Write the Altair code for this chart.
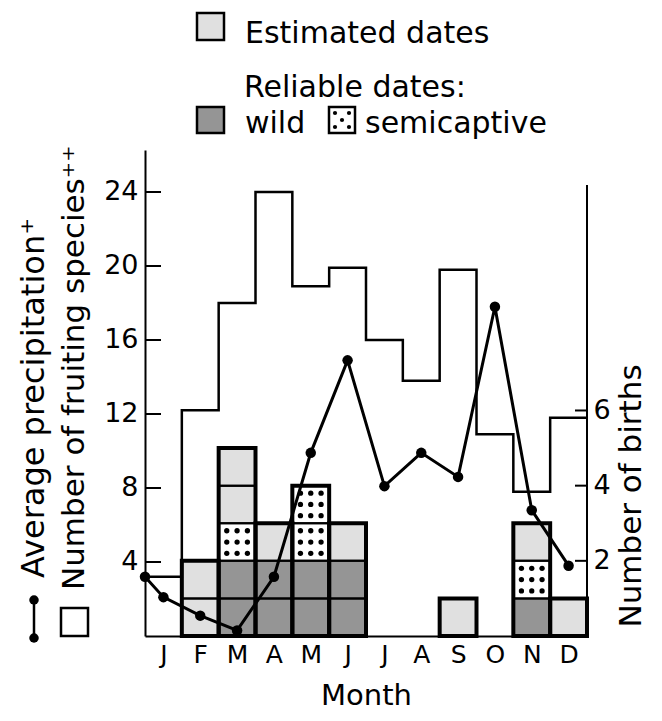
import json
import altair as alt
import pandas as pd

# ---------------- data ----------------
months = ["J", "F", "M", "A", "M", "J", "J", "A", "S", "O", "N", "D"]
fruiting = [3.2, 12.2, 18.0, 24.0, 18.9, 19.9, 16.0, 13.8, 19.8, 10.9, 7.8, 11.8]
precip_start = 3.2
precip = [2.1, 1.1, 0.3, 3.2, 9.9, 14.9, 8.1, 9.9, 8.6, 17.8, 6.8, 3.8]
wild = [0, 0, 2, 2, 2, 2, 0, 0, 0, 0, 1, 0]
semicaptive = [0, 0, 1, 0, 2, 0, 0, 0, 0, 0, 1, 0]
estimated = [0, 2, 2, 1, 0, 1, 0, 0, 1, 0, 1, 1]
left_ticks = [4, 8, 12, 16, 20, 24]
right_ticks = [2, 4, 6]
right_axis_top = 12

# ---------------- layout ----------------
W, H = 442, 486
LEFT_MAX = 26.27
RIGHT_MAX = 12.93
FONT = "DejaVu Sans"
C_WILD, C_SEMI, C_EST = "#959595", "#ffffff", "#e0e0e0"

fruit_df = pd.DataFrame({"x": list(range(13)), "v": fruiting + [fruiting[-1]]})
precip_df = pd.DataFrame({"x": [0] + [i + 0.5 for i in range(12)],
                          "v": [precip_start] + precip})

cells = []
for i in range(12):
    base = 0
    for cat, counts in (("wild", wild), ("semicaptive", semicaptive), ("estimated", estimated)):
        for _ in range(counts[i]):
            cells.append({"x": i, "x2": i + 1, "y": base, "y2": base + 1, "cat": cat})
            base += 1
cells_df = pd.DataFrame(cells)
tot = [wild[i] + semicaptive[i] + estimated[i] for i in range(12)]
totals_df = pd.DataFrame({"x": list(range(12)), "x2": [i + 1 for i in range(12)], "total": tot})
totals_df = totals_df[totals_df.total > 0]

dots = []
for c in cells:
    if c["cat"] == "semicaptive":
        for fx in (0.22, 0.5, 0.78):
            for fy in (0.2, 0.5, 0.8):
                dots.append({"x": c["x"] + fx, "y": c["y"] + fy})
dots_df = pd.DataFrame(dots)

x_scale = alt.Scale(domain=[0, 12], nice=False, zero=False)
x_axis = alt.Axis(values=[i + 0.5 for i in range(12)],
                  labelExpr=f"{json.dumps(months)}[floor(datum.value)]",
                  ticks=False, grid=False, domainColor="black", domainWidth=2,
                  labelFont=FONT, labelFontSize=25, labelColor="black", labelPadding=6,
                  labelAngle=0, title="Month", titleFont=FONT, titleFontSize=29,
                  titleFontWeight="normal", titleColor="black", titlePadding=14)
yl_scale = alt.Scale(domain=[0, LEFT_MAX], nice=False, zero=True)
yl_axis = alt.Axis(values=left_ticks, ticks=False, grid=False, domainColor="black",
                   domainWidth=2, labelFont=FONT, labelFontSize=27, labelColor="black",
                   labelPadding=7, title=None, orient="left")
yr_scale = alt.Scale(domain=[0, RIGHT_MAX], nice=False, zero=True)
yr_axis = alt.Axis(values=right_ticks, ticks=False, grid=False, domain=False,
                   labelFont=FONT, labelFontSize=27, labelColor="black",
                   labelPadding=6, title=None, orient="right")

X = lambda f="x": alt.X(f"{f}:Q", scale=x_scale, axis=x_axis)
YL = lambda f="v": alt.Y(f"{f}:Q", scale=yl_scale, axis=yl_axis)
YR = lambda f="y": alt.Y(f"{f}:Q", scale=yr_scale, axis=yr_axis)

one = pd.DataFrame({"a": [0]})

# ---------- births (right scale) ----------
cells_layer = alt.Chart(cells_df).mark_rect(strokeWidth=0).encode(
    x=X(), x2="x2:Q", y=YR(), y2="y2:Q",
    color=alt.Color("cat:N", scale=alt.Scale(domain=["wild", "semicaptive", "estimated"],
                                              range=[C_WILD, C_SEMI, C_EST]), legend=None))
borders_layer = alt.Chart(cells_df).mark_rect(fillOpacity=0, stroke="black", strokeWidth=2,
                                               strokeOpacity=1).encode(
    x=X(), x2="x2:Q", y=YR(), y2="y2:Q")
outline_layer = alt.Chart(totals_df).mark_rect(fillOpacity=0, stroke="black", strokeWidth=4).encode(
    x=X(), x2="x2:Q", y=alt.Y("zero:Q", scale=yr_scale, axis=yr_axis), y2="total:Q"
).transform_calculate(zero="0")
dots_layer = alt.Chart(dots_df).mark_circle(size=28, color="black", opacity=1).encode(
    x=X(), y=YR())
raxis_df = pd.DataFrame({"y": [0], "y2": [right_axis_top]})
raxis_layer = alt.Chart(raxis_df).mark_rule(color="black", strokeWidth=2).encode(
    x=alt.value(W), y=YR(), y2="y2:Q")
rticks_layer = alt.Chart(pd.DataFrame({"y": right_ticks})).mark_rule(color="black", strokeWidth=2).encode(
    x=alt.value(W - 12), x2=alt.value(W), y=YR())
right_group = alt.layer(cells_layer, dots_layer, borders_layer, outline_layer, raxis_layer, rticks_layer)

# ---------- fruiting & precipitation (left scale) ----------
fruit_layer = alt.Chart(fruit_df).mark_line(interpolate="step-after", color="black",
                                             strokeWidth=2.5).encode(x=X(), y=YL())
precip_line = alt.Chart(precip_df).mark_line(color="black", strokeWidth=3).encode(x=X(), y=YL())
precip_pts = alt.Chart(precip_df).mark_circle(size=110, color="black", opacity=1).encode(x=X(), y=YL())
lticks_layer = alt.Chart(pd.DataFrame({"v": left_ticks})).mark_rule(color="black", strokeWidth=2).encode(
    x=alt.value(0), x2=alt.value(16), y=YL())

# ---------- annotations: titles & legend ----------
def txt(s, x, y, angle=0, align="left", baseline="alphabetic", size=30):
    kw = dict(align=align, baseline=baseline, font=FONT, fontSize=size, color="black")
    if angle:
        kw["angle"] = angle
    return alt.Chart(one).mark_text(**kw).encode(x=alt.value(x), y=alt.value(y), text=alt.value(s))

def box(x1, x2, y1, y2, fill, sw=2):
    return alt.Chart(one).mark_rect(fill=fill, stroke="black", strokeWidth=sw).encode(
        x=alt.value(x1), x2=alt.value(x2), y=alt.value(y1), y2=alt.value(y2))

def dot(x, y, size=90):
    return alt.Chart(one).mark_circle(size=size, color="black", opacity=1).encode(
        x=alt.value(x), y=alt.value(y))

ann = [
    txt("Average precipitation\u207a", -111, 428, angle=270, baseline="middle", size=32),
    txt("Number of fruiting species\u207a\u207a", -70, 440, angle=270, baseline="middle", size=31),
    alt.Chart(one).mark_rule(color="black", strokeWidth=2.5).encode(
        x=alt.value(-111), y=alt.value(450), y2=alt.value(488)),
    dot(-111, 450), dot(-111, 488),
    box(-84, -57, 458, 486, "white", sw=2.5),
    txt("Number of births", 487, 346, angle=270, align="center", baseline="middle", size=31),
    # legend
    box(52, 79, -137, -110, C_EST, sw=2.5),
    txt("Estimated dates", 100, -107),
    txt("Reliable dates:", 99, -53),
    box(52, 79, -43, -17, C_WILD, sw=2.5),
    txt("wild", 100, -17),
    box(184, 210, -43, -17, C_SEMI, sw=2.5),
    dot(190, -37, 18), dot(204, -37, 18), dot(197, -30, 18),
    dot(190, -23, 18), dot(204, -23, 18),
    txt("semicaptive", 220, -17),
]

left_group = alt.layer(fruit_layer, precip_line, precip_pts, lticks_layer, *ann)

chart = alt.layer(right_group, left_group).resolve_scale(y="independent").properties(
    width=W, height=H,
    padding={"left": 137, "top": 142, "right": 67, "bottom": 77},
    autosize=alt.AutoSizeParams(type="none"),
).configure_view(stroke=None)

chart.save("out.html", embed_options={"renderer": "svg", "actions": False})
